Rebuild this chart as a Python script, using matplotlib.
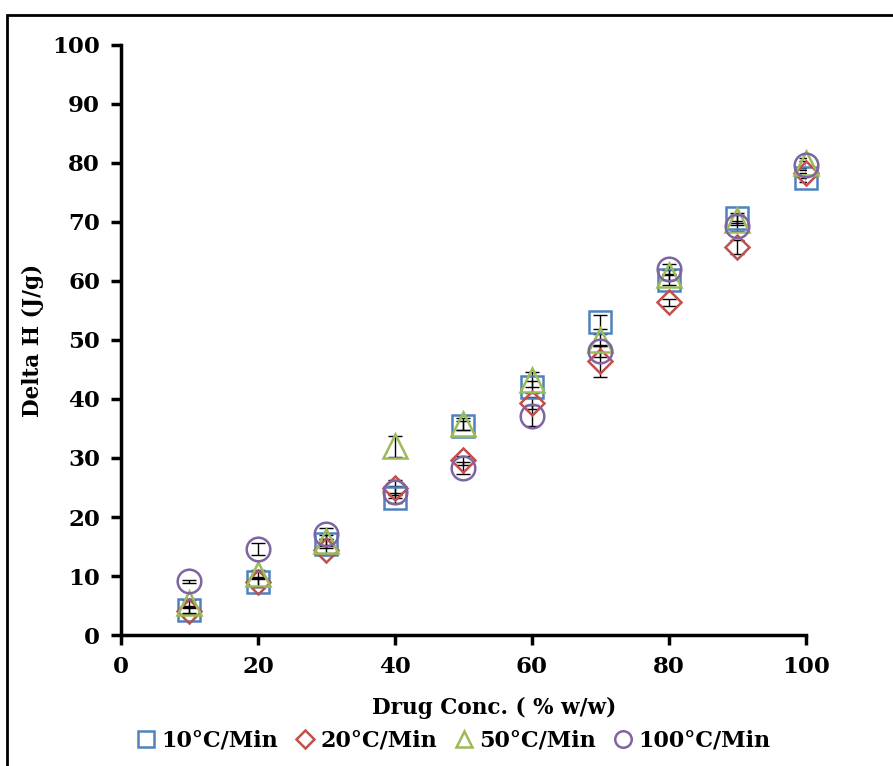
import matplotlib.pyplot as plt
from matplotlib.patches import Rectangle

# drug concentration (% w/w)
conc = [10, 20, 30, 40, 50, 60, 70, 80, 90, 100]

# delta H (J/g) for each heating rate
dh_10 = [4.2, 9.0, 15.5, 23.2, 35.5, 42.0, 53.0, 60.2, 70.7, 77.5]
dh_20 = [4.0, 8.9, 14.4, 25.0, 29.6, 39.3, 46.4, 56.4, 65.8, 78.3]
dh_50 = [5.4, 10.3, 16.0, 32.0, 35.7, 43.3, 50.0, 61.0, 70.3, 80.0]
dh_100 = [9.1, 14.6, 17.2, 24.2, 28.3, 37.2, 48.1, 62.0, 69.3, 79.6]

# standard deviations
sd_10 = [0.5, 0.8, 0.8, 0.8, 0.8, 1.0, 1.2, 0.8, 0.8, 0.8]
sd_20 = [0.5, 0.7, 0.8, 1.2, 0.8, 1.0, 2.6, 0.6, 1.2, 0.8]
sd_50 = [0.5, 0.8, 0.9, 1.8, 1.0, 1.2, 1.0, 0.8, 0.8, 0.8]
sd_100 = [0.3, 1.0, 0.9, 1.0, 1.0, 1.8, 1.0, 0.8, 0.8, 0.8]

labels = ["10°C/Min", "20°C/Min", "50°C/Min", "100°C/Min"]

plt.rcParams['font.family'] = ['DejaVu Serif']
plt.rcParams['font.weight'] = 'bold'

fig = plt.figure(figsize=(8.93, 7.66), dpi=100)
ax = fig.add_axes([0.1355, 0.171, 0.767, 0.7703])

series = [
    (dh_10, sd_10, 's', '#4F81BD', 15.5),
    (dh_20, sd_20, 'D', '#C0504D', 12.5),
    (dh_50, sd_50, '^', '#9BBB59', 17),
    (dh_100, sd_100, 'o', '#8064A2', 17),
]
for (vals, sd, mk, col, ms), lab in zip(series, labels):
    ax.errorbar(conc, vals, yerr=sd, fmt='none', ecolor='black', elinewidth=1,
                capsize=5, capthick=1, zorder=2)
    ax.plot(conc, vals, linestyle='none', marker=mk, markersize=ms,
            markerfacecolor='none', markeredgecolor=col, markeredgewidth=1.8,
            label=lab, zorder=3, clip_on=False)

ax.set_xlim(0, 100)
ax.set_ylim(0, 100)
ax.set_xticks(range(0, 101, 20))
ax.set_yticks(range(0, 101, 10))
ax.spines['top'].set_visible(False)
ax.spines['right'].set_visible(False)
for s in ['left', 'bottom']:
    ax.spines[s].set_linewidth(2.5)
ax.tick_params(direction='out', length=7, width=2.5, labelsize=16.5, pad=8)
for t in ax.get_xticklabels() + ax.get_yticklabels():
    t.set_fontweight('bold')

ax.set_xlabel("Drug Conc. ( % w/w)", fontsize=15.5, fontweight='bold', labelpad=10)
ax.set_ylabel("Delta H (J/g)", fontsize=15.5, fontweight='bold', labelpad=10)
ax.xaxis.set_label_coords(0.545, -0.105)
ax.yaxis.set_label_coords(-0.113, 0.5)

leg = fig.legend(loc='center', bbox_to_anchor=(0.508, 0.033), ncol=4, frameon=False,
                 markerscale=0.7, handlelength=0.8, handletextpad=0.3,
                 columnspacing=0.8, prop={'size': 16, 'weight': 'bold'})

fig.patches.append(Rectangle((7 / 893, -0.1), 1.2, (766 - 15) / 766 + 0.1,
                             transform=fig.transFigure, fill=False,
                             edgecolor='black', linewidth=2, zorder=10))

fig.savefig("out.png", dpi=100)
